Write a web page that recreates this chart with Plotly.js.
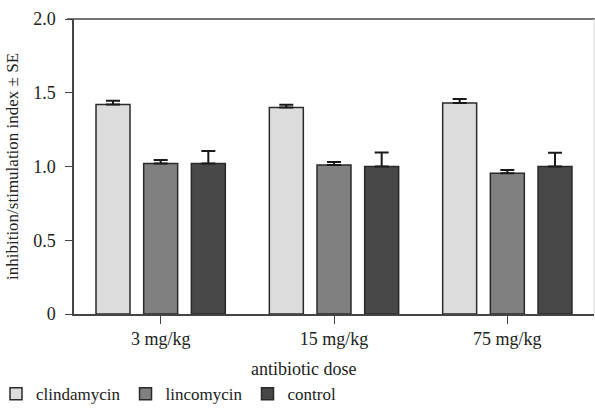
<!DOCTYPE html>
<html>
<head>
<meta charset="utf-8">
<script src="https://cdn.plot.ly/plotly-3.0.1.min.js"></script>
<style>
html,body{margin:0;padding:0;background:#fff;}
</style>
</head>
<body>
<div id="chart"></div>
<script>
const doses = ["3 mg/kg", "15 mg/kg", "75 mg/kg"];
const clindamycin = [1.42, 1.40, 1.43];
const clindamycinSE = [0.025, 0.018, 0.027];
const lincomycin = [1.02, 1.01, 0.955];
const lincomycinSE = [0.024, 0.021, 0.022];
const control = [1.02, 1.00, 1.00];
const controlSE = [0.085, 0.095, 0.093];
const yTickVals = [0, 0.5, 1.0, 1.5, 2.0];
const yTickText = ["0", "0.5", "1.0", "1.5", "2.0"];

const FONT = "Liberation Serif, Times New Roman, serif";
const TXT = "#222";

function barTrace(name, y, se, color) {
  return {
    type: "bar", name: name, x: doses, y: y,
    marker: {color: color, line: {color: "#2a2a2a", width: 1.5}},
    error_y: {type: "data", array: se, visible: true, symmetric: false, arrayminus: se.map(() => 0),
              color: "#1a1a1a", thickness: 2, width: 7}
  };
}

const data = [
  barTrace("clindamycin", clindamycin, clindamycinSE, "#dcdcdc"),
  barTrace("lincomycin", lincomycin, lincomycinSE, "#808080"),
  barTrace("control", control, controlSE, "#484848")
];

const layout = {
  width: 595, height: 410,
  margin: {l: 74, r: 1, t: 19, b: 96, autoexpand: false},
  paper_bgcolor: "#fff", plot_bgcolor: "#fff",
  font: {family: FONT, size: 18, color: TXT},
  barmode: "group", bargap: 0.175, bargroupgap: 0.287,
  showlegend: true,
  legend: {orientation: "h", xref: "paper", yref: "paper", x: -0.15, xanchor: "left", y: -0.272, yanchor: "middle",
           font: {family: FONT, size: 17, color: TXT}, traceorder: "normal", itemwidth: 30},
  xaxis: {
    type: "category", range: [-0.5, 2.5], fixedrange: true, automargin: false,
    showline: true, linecolor: "#444", linewidth: 1.5, mirror: false,
    ticks: "outside", ticklen: 8, tickwidth: 1.2, tickcolor: "#444",
    tickfont: {family: FONT, size: 18, color: TXT},
    showgrid: false, zeroline: false
  },
  yaxis: {
    range: [0, 2.0], fixedrange: true, automargin: false,
    tickvals: yTickVals, ticktext: yTickText,
    showline: true, linecolor: "#444", linewidth: 1.5,
    ticks: "outside", ticklen: 7, tickwidth: 1.2, tickcolor: "#444",
    ticklabelstandoff: 6,
    tickfont: {family: FONT, size: 18, color: TXT},
    showgrid: false, zeroline: false,
    title: {text: "inhibition/stimulation index ± SE", font: {family: FONT, size: 17, color: TXT}, standoff: 10}
  },
  annotations: [
    {text: "antibiotic dose", xref: "paper", yref: "paper", x: (303 - 74) / 520, y: -0.145,
     xanchor: "center", yanchor: "top", showarrow: false, font: {family: FONT, size: 18, color: TXT}}
  ],
  shapes: [
    {type: "line", xref: "paper", yref: "paper", x0: -7 / 520, x1: 1.002, y0: 1, y1: 1, line: {color: "#444", width: 1.5}},
    {type: "line", xref: "paper", yref: "paper", x0: 1, x1: 1, y0: 0, y1: 1, line: {color: "#d8d8d8", width: 1}}
  ]
};

Plotly.newPlot("chart", data, layout, {displayModeBar: false});
</script>
</body>
</html>
